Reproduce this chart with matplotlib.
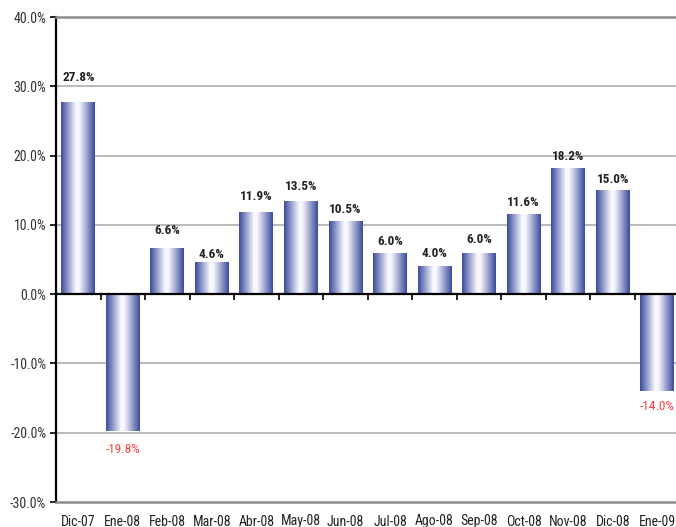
import numpy as np
import matplotlib
matplotlib.use("Agg")
import matplotlib.pyplot as plt
from matplotlib.colors import LinearSegmentedColormap

# Data
months = ['Dic-07', 'Ene-08', 'Feb-08', 'Mar-08', 'Abr-08', 'May-08', 'Jun-08',
          'Jul-08', 'Ago-08', 'Sep-08', 'Oct-08', 'Nov-08', 'Dic-08', 'Ene-09']
values = [27.8, -19.8, 6.6, 4.6, 11.9, 13.5, 10.5, 6.0, 4.0, 6.0, 11.6, 18.2, 15.0, -14.0]
y_ticks = [-30, -20, -10, 0, 10, 20, 30, 40]
# gap (px) between bar end and label centre, as placed in the original
label_gap = [24, 18, 18, 8, 15, 14, 12, 11, 13, 13, 11, 12, 11, 15]

plt.rcParams['font.family'] = ['Roboto Condensed', 'DejaVu Sans']

fig = plt.figure(figsize=(6.76, 5.27), dpi=100)
ax = fig.add_axes([56 / 676, 25 / 527, 623.5 / 676, 485 / 527])

x = np.arange(len(months))
bars = ax.bar(x, values, width=0.76, color='none', edgecolor='none', zorder=3)

# horizontal gradient: blue edges, white middle
cmap = LinearSegmentedColormap.from_list(
    'bar', [(0.0, '#3a4a9c'), (0.45, '#fafaff'), (0.55, '#f4f4fc'), (1.0, '#3a4a9c')])
grad = np.linspace(0, 1, 256).reshape(1, -1)
for b in bars:
    x0, y0 = b.get_x(), b.get_y()
    w, h = b.get_width(), b.get_height()
    im = ax.imshow(grad, cmap=cmap, aspect='auto', zorder=3,
                   extent=(x0, x0 + w, y0, y0 + h), interpolation='bilinear')
    im.set_clip_path(b)

ax.set_xlim(-0.5, len(months) - 0.5)
ax.set_ylim(-30, 40)

# grid
for yv in y_ticks[1:-1]:
    if yv != 0:
        ax.axhline(yv, color='#b4b4b4', lw=1.3, zorder=1)
ax.axhline(0, color='black', lw=1.6, zorder=4)

for s in ['top', 'bottom']:
    ax.spines[s].set_color('#8c8c8c')
    ax.spines[s].set_linewidth(1.8)
ax.spines['right'].set_visible(False)
ax.spines['left'].set_color('black')
ax.spines['left'].set_linewidth(1.6)

ax.set_yticks(y_ticks)
ax.set_yticklabels([f'{v:.1f}%' for v in y_ticks])
ax.tick_params(axis='y', length=4, width=1.2, color='black', labelsize=10,
               labelcolor='#333333', pad=3)
ax.set_xticks(x)
ax.set_xticklabels(months)
ax.tick_params(axis='x', length=0, pad=9, labelsize=10, labelcolor='#222222')

# ticks on the zero line, between categories
sec = ax.secondary_xaxis(30 / 70)
sec.set_xticks(np.arange(len(months) - 1) + 0.5)
sec.set_xticklabels([])
sec.spines['bottom'].set_visible(False)
sec.tick_params(axis='x', length=4, width=1.2, color='black', direction='out')

# value labels
for xi, v, g in zip(x, values, label_gap):
    off = g * 0.72
    if v >= 0:
        ax.annotate(f'{v:.1f}%', (xi, v), xytext=(0, off), textcoords='offset points',
                    ha='center', va='center', fontsize=9.5, fontweight='bold',
                    color='#222222')
    else:
        ax.annotate(f'{v:.1f}%', (xi, v), xytext=(0, -off), textcoords='offset points',
                    ha='center', va='center', fontsize=9.5, color='#ff4040')

fig.savefig('out.png', dpi=100)
